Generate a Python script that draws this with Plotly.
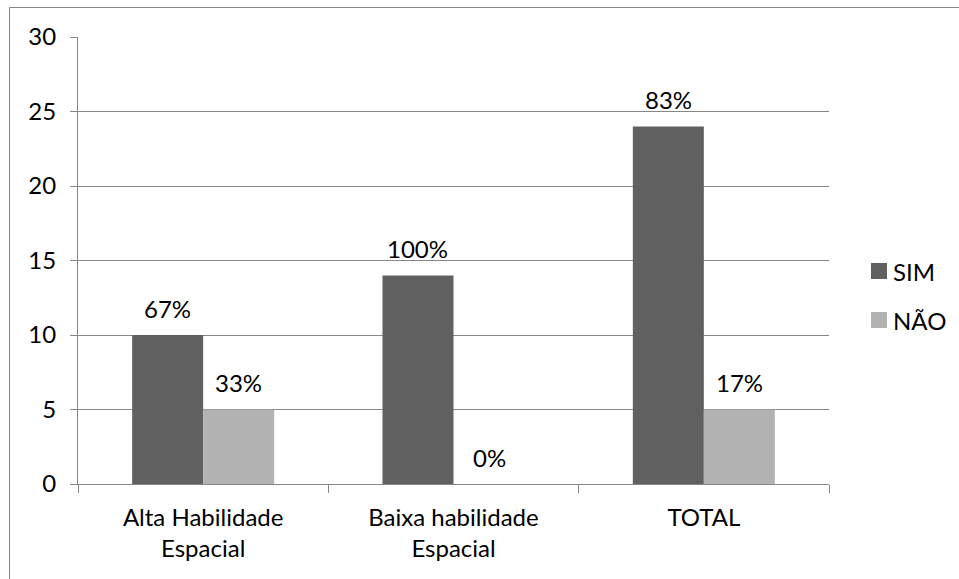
import plotly.graph_objects as go

# Chart data
categories = ["Alta Habilidade<br>Espacial", "Baixa habilidade<br>Espacial", "TOTAL"]
sim_values = [10, 14, 24]
nao_values = [5, 0, 5]
sim_labels = ["67%", "100%", "83%"]
nao_labels = ["33%", "0%", "17%"]
series_names = ["SIM", "NÃO"]
y_ticks = [0, 5, 10, 15, 20, 25, 30]

# Styling
W, H = 959, 579
M_L, M_R, M_T, M_B = 78, 130, 37, 95
FONT = "Lato"
FS = 24
C_SIM = "#606060"
C_NAO = "#b2b2b2"
C_LINE = "#878787"

plot_w = W - M_L - M_R
plot_h = H - M_T - M_B


def px_x(x):
    return (x - M_L) / plot_w


def px_y(y):
    return (H - M_B - y) / plot_h


fig = go.Figure()
fig.add_trace(go.Bar(x=categories, y=sim_values, name=series_names[0],
                     marker=dict(color=C_SIM, line=dict(width=0)), showlegend=False))
fig.add_trace(go.Bar(x=categories, y=nao_values, name=series_names[1],
                     marker=dict(color=C_NAO, line=dict(width=0)), showlegend=False))

# Percentage labels above each bar
bar_px = plot_w / len(categories) * (1 - 0.4327) / 2
annotations = []
for cat, v, lab in zip(categories, sim_values, sim_labels):
    annotations.append(dict(x=cat, y=v, text=lab, xref="x", yref="y", showarrow=False,
                            xshift=-bar_px / 2, yshift=27, font=dict(family=FONT, size=FS, color="black")))
for cat, v, lab in zip(categories, nao_values, nao_labels):
    annotations.append(dict(x=cat, y=v, text=lab, xref="x", yref="y", showarrow=False,
                            xshift=bar_px / 2, yshift=27, font=dict(family=FONT, size=FS, color="black")))

# Legend drawn as swatches + text to the right of the plot
shapes = []
legend_rows = [(series_names[0], C_SIM, 271), (series_names[1], C_NAO, 320)]
for name, color, yc in legend_rows:
    shapes.append(dict(type="rect", xref="paper", yref="paper",
                       x0=px_x(871), x1=px_x(887), y0=px_y(yc + 8), y1=px_y(yc - 8),
                       fillcolor=color, line=dict(width=0)))
    annotations.append(dict(x=px_x(891), y=px_y(yc), xref="paper", yref="paper", text=name,
                            showarrow=False, xanchor="left", yanchor="middle",
                            font=dict(family=FONT, size=FS, color="black")))

# Chart-area border
shapes.append(dict(type="rect", xref="paper", yref="paper",
                   x0=px_x(9.5), x1=px_x(990), y0=px_y(600), y1=px_y(7.5),
                   line=dict(color=C_LINE, width=1), fillcolor="rgba(0,0,0,0)", layer="below"))

fig.update_layout(
    width=W, height=H,
    margin=dict(l=M_L, r=M_R, t=M_T, b=M_B),
    paper_bgcolor="white", plot_bgcolor="white",
    barmode="group", bargap=0.4327, bargroupgap=0,
    font=dict(family=FONT, size=FS, color="black"),
    annotations=annotations, shapes=shapes,
    showlegend=False,
)
fig.update_xaxes(
    showline=True, linecolor=C_LINE, linewidth=1,
    ticks="outside", tickson="boundaries", ticklen=8, tickcolor=C_LINE,
    showgrid=False, ticklabelstandoff=12,
    tickfont=dict(family=FONT, size=FS, color="black"),
)
fig.update_yaxes(
    range=[0, 30], tickvals=y_ticks,
    showline=True, linecolor=C_LINE, linewidth=1,
    ticks="outside", ticklen=7, tickcolor=C_LINE,
    showgrid=True, gridcolor=C_LINE, gridwidth=1, zeroline=False,
    ticklabelstandoff=9,
    tickfont=dict(family=FONT, size=FS, color="black"),
)

fig.write_html("out.html")
